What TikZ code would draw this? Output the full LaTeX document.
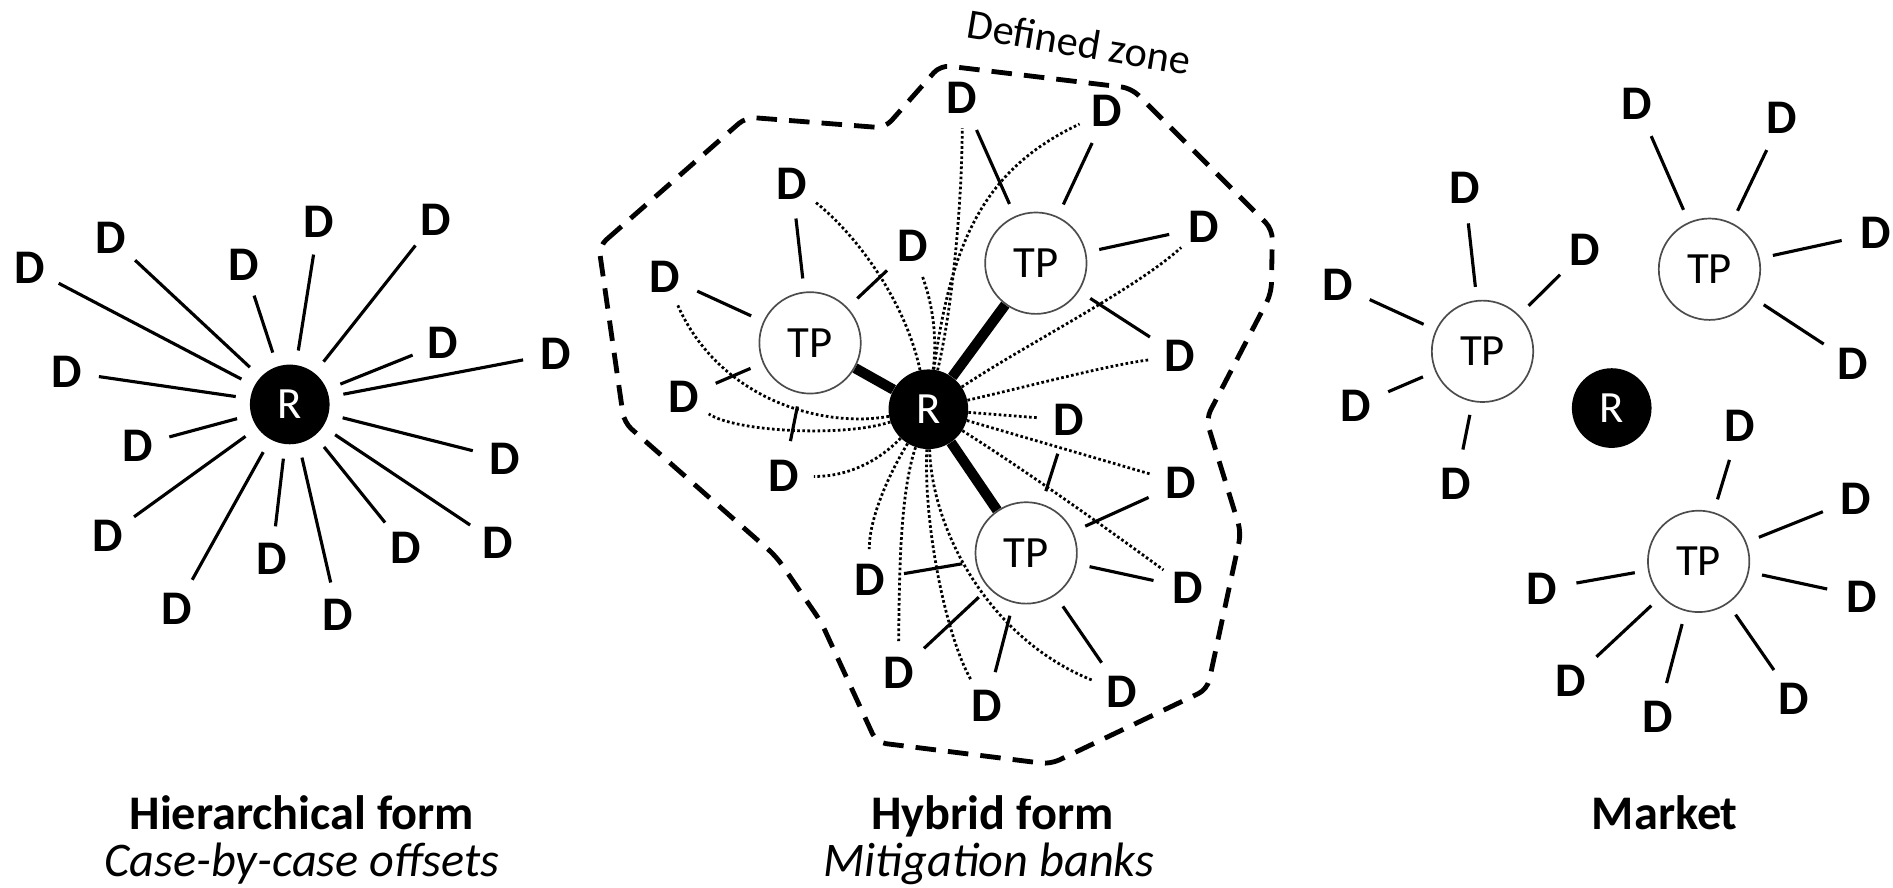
\documentclass[tikz,border=0pt]{standalone}
\usepackage{fontspec}
\setmainfont{Carlito}
\usetikzlibrary{backgrounds}
\begin{document}
\begin{tikzpicture}[x=1pt,y=-1pt,
  dn/.style={circle,minimum size=50pt,inner sep=0pt,font=\fontsize{40}{48}\selectfont\bfseries},
  rn/.style={circle,fill=black,minimum size=66pt,inner sep=0pt,text=white,font=\fontsize{37}{44}\selectfont},
  tpn/.style={circle,draw=black!70,line width=1.4pt,fill=white,minimum size=84pt,inner sep=0pt,font=\fontsize{37}{44}\selectfont},
  spoke/.style={line width=2.6pt,shorten <=12pt,shorten >=2pt},
  seg/.style={line width=2.6pt,shorten <=11pt,shorten >=4pt},
  link/.style={line width=8.5pt},
  dots/.style={line width=2.3pt,dash pattern=on 2.2pt off 2pt},
  zone/.style={line width=4pt,dash pattern=on 17pt off 10pt,rounded corners=8pt},
  ttl/.style={anchor=base,font=\fontsize{40}{48}\selectfont\bfseries},
  sub/.style={anchor=base,font=\fontsize{40}{48}\selectfont\itshape}]
\path[use as bounding box] (0,0) rectangle (1568,735.5);

% ---------------- Hierarchical form ----------------
\node[rn] (Rl) at (240,335) {R};
\node[dn] (l1) at (24.5,222) {D};
\node[dn] (l2) at (92,197) {D};
\node[dn] (l3) at (202,219) {D};
\node[dn] (l4) at (264,184) {D};
\node[dn] (l5) at (361,182) {D};
\node[dn] (l6) at (367,284) {D};
\node[dn] (l7) at (460,293) {D};
\node[dn] (l8) at (55,308) {D};
\node[dn] (l9) at (114,369) {D};
\node[dn] (l10) at (418,380) {D};
\node[dn] (l11) at (89,444) {D};
\node[dn] (l12) at (225,463) {D};
\node[dn] (l13) at (336,454) {D};
\node[dn] (l14) at (412,450) {D};
\node[dn] (l15) at (146,504) {D};
\node[dn] (l16) at (280,509) {D};
\foreach \k in {1,...,16} {\draw[spoke] (Rl) -- (l\k);}

% ---------------- Hybrid form ----------------
\draw[zone] (496,204) -- (618,97) -- (733,106) -- (779,54) -- (937,73) -- (1054,190)
  -- (1053,243) -- (999,347) -- (1028,441) -- (1000,571) -- (870,633) -- (726,615)
  -- (680,515) -- (643,461) -- (517,350) -- cycle;
\node[rotate=-9.5,font=\fontsize{35}{42}\selectfont] (zt) at (894,35) {Defined zone};

\node[rn] (Rm) at (769,339) {R};
\node[tpn] (T1) at (671,284) {TP};
\node[tpn] (T2) at (858,218) {TP};
\node[tpn] (T3) at (850,458) {TP};
\node[dn] (ma) at (797,81) {D};
\node[dn] (mb) at (917,92) {D};
\node[dn] (mc) at (656,152) {D};
\node[dn] (md) at (756,204) {D};
\node[dn] (me) at (551,229) {D};
\node[dn] (mf) at (997,188) {D};
\node[dn] (mg) at (977,295) {D};
\node[dn] (mh) at (566,329) {D};
\node[dn] (mi) at (885,348) {D};
\node[dn] (mj) at (649,394) {D};
\node[dn] (mk) at (978,400) {D};
\node[dn] (ml) at (720,480) {D};
\node[dn] (mm) at (984,487) {D};
\node[dn] (mn) at (744,557) {D};
\node[dn] (mo) at (929,573) {D};
\node[dn] (mp) at (817,585) {D};

\begin{scope}[on background layer]
\draw[dots] (Rm) .. controls (790,250) and (797,160) .. (ma);
\draw[dots] (Rm) .. controls (788,200) and (815,140) .. (mb);
\draw[dots] (Rm) .. controls (750,250) and (710,195) .. (mc);
\draw[dots] (Rm) .. controls (778,265) and (766,235) .. (md);
\draw[dots] (Rm) .. controls (680,355) and (595,330) .. (me);
\draw[dots] (Rm) .. controls (850,285) and (940,240) .. (mf);
\draw[dots] (Rm) .. controls (860,318) and (920,302) .. (mg);
\draw[dots] (Rm) .. controls (700,362) and (610,358) .. (mh);
\draw[dots] (Rm) -- (mi);
\draw[dots] (Rm) .. controls (720,390) and (690,395) .. (mj);
\draw[dots] (Rm) -- (mk);
\draw[dots] (Rm) .. controls (735,395) and (720,430) .. (ml);
\draw[dots] (Rm) .. controls (850,390) and (920,440) .. (mm);
\draw[dots] (Rm) .. controls (745,410) and (745,480) .. (mn);
\draw[dots] (Rm) .. controls (772,440) and (820,530) .. (mo);
\draw[dots] (Rm) .. controls (765,440) and (785,530) .. (mp);
\draw[link] (Rm) -- (T1);
\draw[link] (Rm) -- (T2);
\draw[link] (Rm) -- (T3);
\end{scope}

\foreach \d in {mc,md,me,mh,mj} {\draw[seg] (T1) -- (\d);}
\foreach \d in {ma,mb,mf,mg} {\draw[seg] (T2) -- (\d);}
\foreach \d in {mi,mk,mm,ml,mn,mp,mo} {\draw[seg] (T3) -- (\d);}

% ---------------- Market ----------------
\node[rn] (Rr) at (1335,338) {R};
\node[tpn] (Ta) at (1228,291) {TP};
\node[tpn] (Tb) at (1416,223) {TP};
\node[tpn] (Tc) at (1407,465) {TP};
\node[dn] (a1) at (1213,156) {D};
\node[dn] (a2) at (1313,207) {D};
\node[dn] (a3) at (1108,236) {D};
\node[dn] (a4) at (1123,336) {D};
\node[dn] (a5) at (1206,401) {D};
\node[dn] (b1) at (1356,86) {D};
\node[dn] (b2) at (1476,98) {D};
\node[dn] (b3) at (1554,193) {D};
\node[dn] (b4) at (1535,301) {D};
\node[dn] (c1) at (1441,353) {D};
\node[dn] (c2) at (1537,413) {D};
\node[dn] (c3) at (1277,488) {D};
\node[dn] (c4) at (1542,494) {D};
\node[dn] (c5) at (1301,564) {D};
\node[dn] (c6) at (1486,579) {D};
\node[dn] (c7) at (1373,594) {D};
\foreach \k in {1,...,5} {\draw[seg] (Ta) -- (a\k);}
\foreach \k in {1,...,4} {\draw[seg] (Tb) -- (b\k);}
\foreach \k in {1,...,7} {\draw[seg] (Tc) -- (c\k);}

% ---------------- Titles ----------------
\node[ttl] (t1) at (250,687) {Hierarchical form};
\node[sub] (s1) at (250,726) {Case-by-case offsets};
\node[ttl] (t2) at (822,687) {Hybrid form};
\node[sub] (s2) at (819,726) {Mitigation banks};
\node[ttl] (t3) at (1379,687) {Market};
\end{tikzpicture}
\end{document}
